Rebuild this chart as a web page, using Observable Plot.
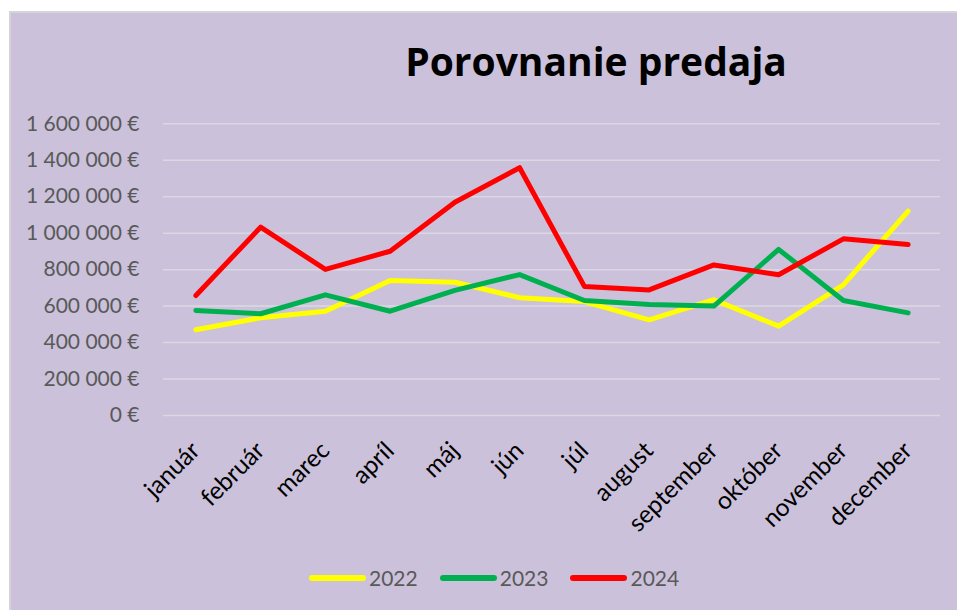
<!DOCTYPE html>
<html>
<head>
<meta charset="utf-8">
<script src="https://cdn.jsdelivr.net/npm/d3@7"></script>
<script src="https://cdn.jsdelivr.net/npm/@observablehq/plot@0.6"></script>
<style>
  html, body { margin: 0; padding: 0; background: #ffffff; width: 957px; height: 610px; overflow: hidden; }
  #frame { position: absolute; left: 9px; top: 11px; width: 960px; height: 610px; background: #CBC1DA; border-left: 2px solid #D6D3DA; border-top: 2px solid #D6D3DA; }
  #chart { position: absolute; left: 0; top: 0; }
  #title { position: absolute; top: 41px; left: 596px; transform: translateX(-50%); font-family: "Open Sans", sans-serif; font-weight: bold; font-size: 39px; line-height: 1; color: #000; white-space: nowrap; }
  #legend { position: absolute; left: 309px; top: 566px; display: flex; align-items: center; font-family: Lato, sans-serif; font-size: 21px; line-height: 24px; color: #595959; }
  .item { display: flex; align-items: center; margin-right: 22px; }
  .sw { width: 57px; height: 6px; border-radius: 3px; margin-right: 3px; }
</style>
</head>
<body>
<div id="frame"></div>
<div id="chart"></div>
<div id="title">Porovnanie predaja</div>
<div id="legend"></div>
<script>
const months = ["január","február","marec","apríl","máj","jún","júl","august","september","október","november","december"];
const years = ["2022","2023","2024"];
const sales2022 = [470000, 536000, 572000, 740000, 731000, 646000, 625000, 525000, 635000, 490000, 717000, 1121000];
const sales2023 = [576000, 558000, 662000, 572000, 686000, 773000, 631000, 609000, 600000, 911000, 631000, 563000];
const sales2024 = [658000, 1033000, 801000, 901000, 1170000, 1359000, 708000, 689000, 826000, 772000, 969000, 938000];
const yTicks = [0, 200000, 400000, 600000, 800000, 1000000, 1200000, 1400000, 1600000];
const colors = ["#FFFF00", "#00B050", "#FF0000"];

const seriesValues = [sales2022, sales2023, sales2024];
const data = [];
years.forEach((yr, i) => months.forEach((m, j) => data.push({year: yr, month: m, value: seriesValues[i][j]})));

const fmt = v => d3.format(",")(v).replace(/,/g, " ") + " €";

const chart = Plot.plot({
  width: 957,
  height: 540,
  marginTop: 123.3,
  marginBottom: 125,
  marginLeft: 163,
  marginRight: 17,
  style: { background: "transparent", fontFamily: "Lato, sans-serif" },
  x: { type: "point", domain: months, padding: 0.5, round: false },
  y: { domain: [0, 1600000] },
  color: { domain: years, range: colors },
  marks: [
    Plot.ruleY(yTicks, { stroke: "#DCD8E2", strokeWidth: 1.5 }),
    Plot.axisY({ ticks: yTicks, tickFormat: fmt, tickSize: 0, tickPadding: 24, fontSize: 21, fill: "#595959", label: null }),
    Plot.axisX({ tickRotate: -45, tickSize: 0, tickPadding: 31, fontSize: 24.5, fill: "#000", label: null }),
    Plot.line(data, { x: "month", y: "value", z: "year", stroke: "year", strokeWidth: 5, strokeLinecap: "round", strokeLinejoin: "round" })
  ]
});
document.getElementById("chart").appendChild(chart);

const legend = document.getElementById("legend");
years.forEach((yr, i) => {
  const it = document.createElement("div");
  it.className = "item";
  const sw = document.createElement("div");
  sw.className = "sw";
  sw.style.background = colors[i];
  const lb = document.createElement("span");
  lb.textContent = yr;
  it.appendChild(sw); it.appendChild(lb);
  legend.appendChild(it);
});
</script>
</body>
</html>
